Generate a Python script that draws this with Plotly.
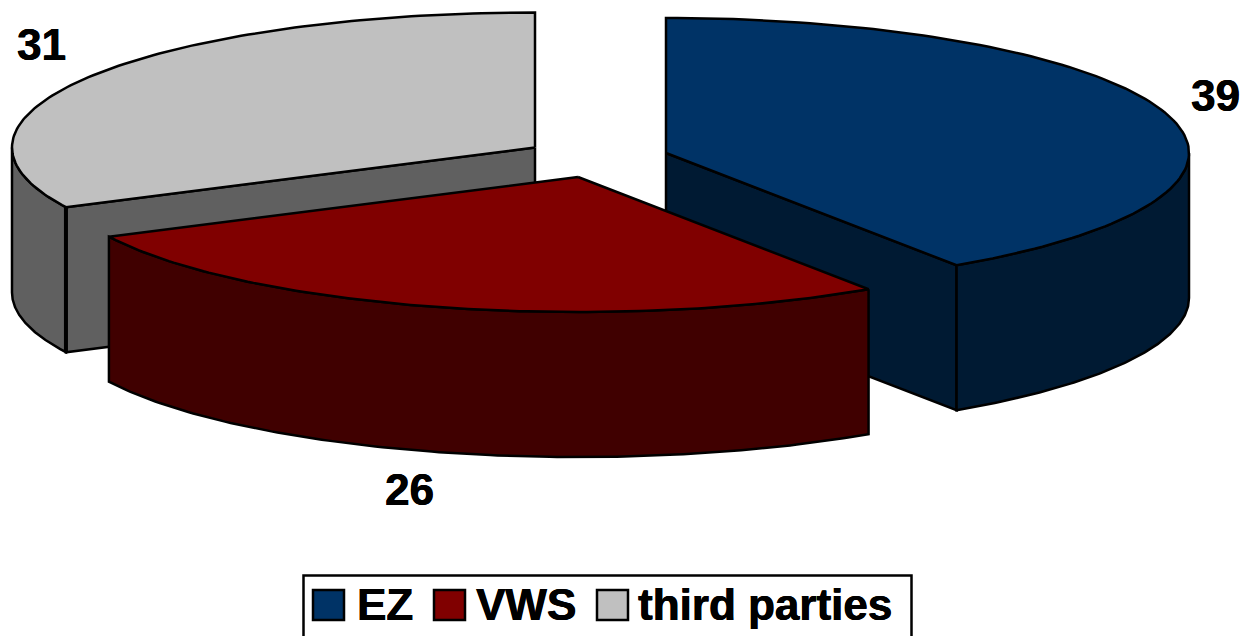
import numpy as np
import plotly.graph_objects as go

categories = ["EZ", "VWS", "third parties"]
values = [39, 26, 31]
top_colors = ["#003366", "#800000", "#C0C0C0"]
wall_colors = ["#001A33", "#400000", "#606060"]

W, H = 1241, 636
RX, RY, DEPTH = 523, 135, 145
apexes = {"EZ": (666, 153), "VWS": (578, 177), "third parties": (535, 147.5)}
label_pos = {"EZ": (1215, 95), "VWS": (409, 489), "third parties": (41, 44)}
legend_pos = {"EZ": (313, 357), "VWS": (434, 476), "third parties": (597, 638)}
FONT = "Liberation Sans, Arial, sans-serif"
FS = 44
SHADOW = "0.5px 0 0 black, -0.3px 0 0 black"

total = sum(values)
fig = go.Figure()


def arc(cx, cy, t0, t1, n=120):
    t = np.radians(np.linspace(t0, t1, n))
    return cx + RX * np.sin(t), cy - RY * np.cos(t)


def poly(x, y, fill, name, lw=2.5):
    fig.add_trace(go.Scatter(x=list(x) + [x[0]], y=list(y) + [y[0]], mode="lines", fill="toself",
                             fillcolor=fill, line=dict(color="black", width=lw),
                             name=name, showlegend=False, hoverinfo="skip"))


def wall(cx, cy, t0, t1, fill, name):
    x, y = arc(cx, cy, t0, t1)
    poly(np.r_[x, x[::-1]], np.r_[y, y[::-1] + DEPTH], fill, name)


def flat_wall(cx, cy, t, fill, name):
    ex, ey = arc(cx, cy, t, t, 1)
    poly([cx, ex[0], ex[0], cx], [cy, ey[0], ey[0] + DEPTH, cy + DEPTH], fill, name)


# angles per slice, clockwise from twelve o'clock
angles = {}
a = 0.0
for c, v in zip(categories, values):
    angles[c] = (a, a + v / total * 360)
    a += v / total * 360

# painter's order: back-left slice, right slice, front slice
for c in ["third parties", "EZ", "VWS"]:
    i = categories.index(c)
    cx, cy = apexes[c]
    t0, t1 = angles[c]
    if c == "third parties":
        flat_wall(cx, cy, t0, wall_colors[i], c)
        wall(cx, cy, t0, 270, wall_colors[i], c)
        ex, ey = arc(cx, cy, t0, t0, 1)
        fig.add_trace(go.Scatter(x=[ex[0], ex[0]], y=[ey[0], ey[0] + DEPTH], mode="lines",
                                 line=dict(color="black", width=4), showlegend=False, hoverinfo="skip"))
    elif c == "EZ":
        flat_wall(cx, cy, t1, wall_colors[i], c)
        wall(cx, cy, 90, t1, wall_colors[i], c)
    else:
        wall(cx, cy, t0, t1, wall_colors[i], c)
    x, y = arc(cx, cy, t0, t1)
    poly(np.r_[cx, x], np.r_[cy, y], top_colors[i], c)

annotations = []
for c, v in zip(categories, values):
    lx, ly = label_pos[c]
    annotations.append(dict(x=lx, y=ly, text=f"<b>{v}</b>", showarrow=False, xanchor="center", yanchor="middle",
                            font=dict(family=FONT, size=FS, color="black", shadow=SHADOW)))

shapes = [dict(type="rect", x0=303.5, x1=911.5, y0=575.5, y1=660, line=dict(color="black", width=2.5),
               fillcolor="white", layer="below")]
for c, col in zip(categories, top_colors):
    sx, tx = legend_pos[c]
    shapes.append(dict(type="rect", x0=sx, x1=sx + 31, y0=590, y1=620, fillcolor=col,
                       line=dict(color="black", width=2.5)))
    annotations.append(dict(x=tx, y=604, text=f"<b>{c}</b>", showarrow=False, xanchor="left", yanchor="middle",
                            xshift=-2, font=dict(family=FONT, size=FS, color="black", shadow=SHADOW)))

fig.update_layout(
    width=W, height=H, margin=dict(l=0, r=0, t=0, b=0), autosize=False,
    paper_bgcolor="white", plot_bgcolor="white", showlegend=False,
    xaxis=dict(range=[0, W], visible=False, fixedrange=True),
    yaxis=dict(range=[H, 0], visible=False, fixedrange=True),
    annotations=annotations, shapes=shapes,
)
fig.write_html("out.html", post_script="document.body.style.margin='0';", config={"displayModeBar": False})
